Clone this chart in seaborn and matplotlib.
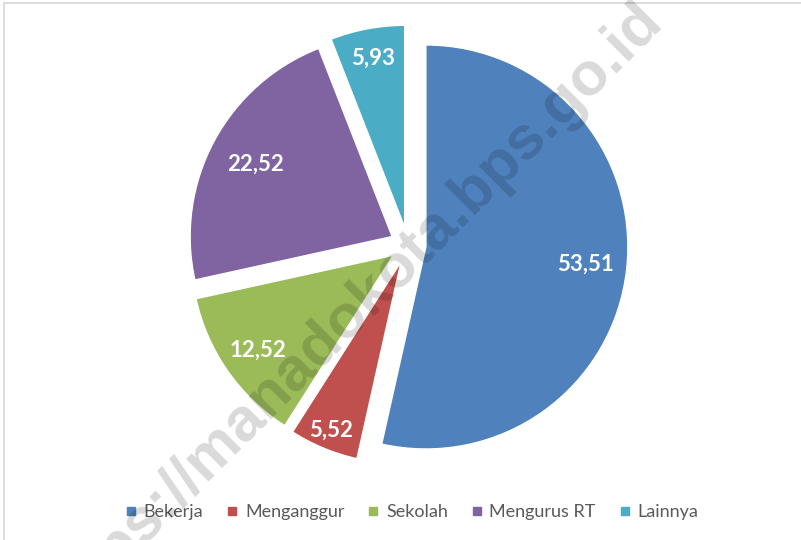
import numpy as np
import matplotlib
matplotlib.use("Agg")
import matplotlib.pyplot as plt
import seaborn as sns
from matplotlib.lines import Line2D
from matplotlib.patches import Rectangle

categories = ["Bekerja", "Menganggur", "Sekolah", "Mengurus RT", "Lainnya"]
values = [53.51, 5.52, 12.52, 22.52, 5.93]
value_labels = ["53,51", "5,52", "12,52", "22,52", "5,93"]
colors = ["#4F81BD", "#C0504D", "#9BBB59", "#8064A2", "#4BACC6"]
label_dist = [0.795, 0.905, 0.82, 0.765, 0.85]

sns.set_theme(style="white")
plt.rcParams["font.family"] = ["Lato", "DejaVu Sans"]

W, H = 801, 540
fig = plt.figure(figsize=(W / 100, H / 100), dpi=100)
fig.patch.set_facecolor("white")
ax = fig.add_axes([0, 0, 1, 1])

s = 202.0          # pixels per unit radius
cx, cy = 408.0, 245.0  # pie centre in pixels (from top-left)

wedges, _ = ax.pie(values, explode=[0.089] * len(values), startangle=90,
                   counterclock=False, colors=colors, radius=1.0)

for w, lab, d in zip(wedges, value_labels, label_dist):
    ang = np.deg2rad((w.theta1 + w.theta2) / 2)
    x0, y0 = w.center
    ax.text(x0 + d * np.cos(ang), y0 + d * np.sin(ang), lab,
            ha="center", va="center", color="white", fontsize=16,
            fontweight="bold")

ax.set_aspect("auto")
ax.set_xlim(-cx / s, (W - cx) / s)
ax.set_ylim(-(H - cy) / s, cy / s)
ax.axis("off")

# chart border (cropped on right/bottom)
fig.patches.append(Rectangle((4 / W, -0.1), 1.2, 1 - 3 / H + 0.1,
                             transform=fig.transFigure, fill=False,
                             edgecolor="#D9D9D9", linewidth=1.3, zorder=0))

handles = [Line2D([0], [0], marker="s", linestyle="none", markersize=5.5,
                  markerfacecolor=c, markeredgecolor=c) for c in colors]
leg = fig.legend(handles, categories, loc="center", ncol=5,
                 bbox_to_anchor=(412 / W, 1 - 512 / H), frameon=False,
                 fontsize=13, handlelength=0.6, handletextpad=0.4,
                 columnspacing=1.3, labelcolor="#595959")

# watermark
fig.text(664 / W, 1 - 22 / H, "https://manadokota.bps.go.id",
         rotation=45, rotation_mode="anchor", ha="right", va="baseline",
         fontsize=44, fontweight="bold", family="Liberation Sans",
         color="black", alpha=0.15, zorder=10)

fig.savefig("out.png", dpi=100)
